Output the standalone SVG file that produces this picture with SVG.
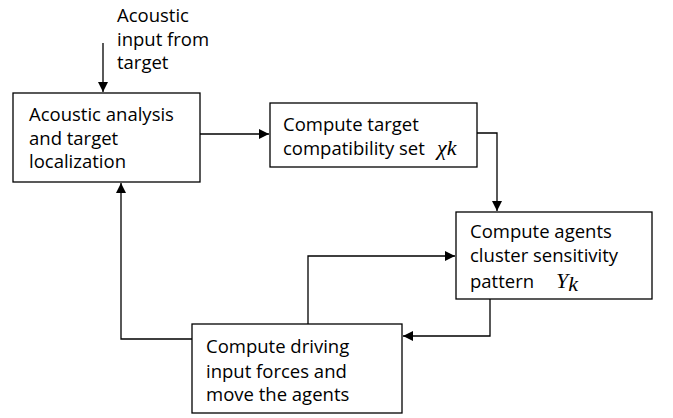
<svg xmlns="http://www.w3.org/2000/svg" width="673" height="418" viewBox="0 0 673 418">
<defs>
<marker id="ah" viewBox="0 0 10 10" refX="10" refY="5" markerWidth="10" markerHeight="10" markerUnits="userSpaceOnUse" orient="auto">
<path d="M0,0 L10,5 L0,10 z" fill="#000"/>
</marker>
</defs>
<style>
.box{fill:#fff;stroke:#000;stroke-width:1.3}
.t{font-family:"Open Sans","Noto Sans",sans-serif;font-size:18.5px;fill:#000}
.m{font-family:"Liberation Serif",serif;font-style:italic;font-size:22px}
.c{fill:none;stroke:#000;stroke-width:1.3}
</style>
<rect width="673" height="418" fill="#fff"/>
<g id="connectors">
<path class="c" d="M103,43 V92" marker-end="url(#ah)"/>
<path class="c" d="M200,134 H269" marker-end="url(#ah)"/>
<path class="c" d="M477,133 H497 V211" marker-end="url(#ah)"/>
<path class="c" d="M308,324 V256 H455" marker-end="url(#ah)"/>
<path class="c" d="M490,299 V336 H403" marker-end="url(#ah)"/>
<path class="c" d="M192,339 H121 V183" marker-end="url(#ah)"/>
</g>
<g id="input-label">
<text class="t" x="117" y="22">Acoustic</text>
<text class="t" x="117" y="46">input from</text>
<text class="t" x="117" y="69">target</text>
</g>
<g id="node-acoustic">
<rect class="box" x="13" y="93" width="187" height="89"/>
<text class="t" x="29" y="121">Acoustic analysis</text>
<text class="t" x="29" y="145">and target</text>
<text class="t" x="29" y="168">localization</text>
</g>
<g id="node-compat">
<rect class="box" x="270" y="103" width="207" height="64"/>
<text class="t" x="283" y="131">Compute target</text>
<text class="t" x="283" y="155">compatibility set<tspan class="m" x="437">χk</tspan></text>
</g>
<g id="node-cluster">
<rect class="box" x="456" y="212" width="196" height="87"/>
<text class="t" x="470" y="238">Compute agents</text>
<text class="t" x="470" y="262">cluster sensitivity</text>
<text class="t" x="470" y="288">pattern<tspan class="m" x="556">Y</tspan><tspan class="m" font-size="15" dy="3">k</tspan></text>
</g>
<g id="node-drive">
<rect class="box" x="192" y="324" width="210" height="89"/>
<text class="t" x="206" y="353">Compute driving</text>
<text class="t" x="206" y="378">input forces and</text>
<text class="t" x="206" y="401">move the agents</text>
</g>
</svg>
